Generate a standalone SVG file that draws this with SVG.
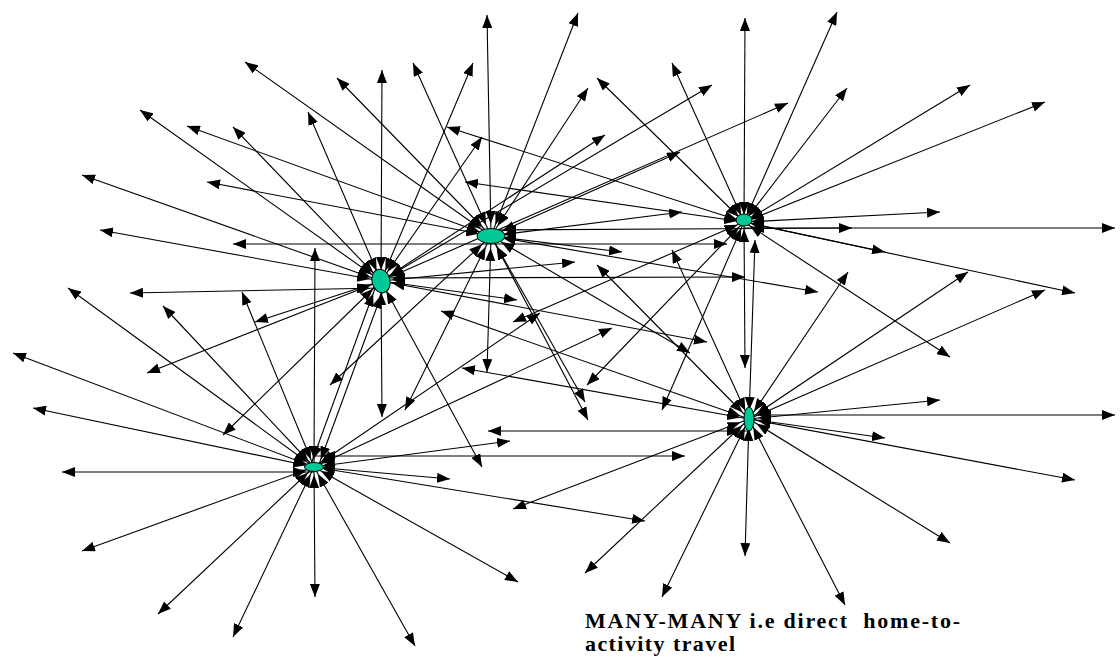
<svg xmlns="http://www.w3.org/2000/svg" width="1120" height="659" viewBox="0 0 1120 659">
<style>
line{stroke:#000;stroke-width:1.1;marker-end:url(#h)}
.a{marker-start:url(#sA)}
.b{marker-start:url(#sB)}
.c{marker-start:url(#sC)}
.d{marker-start:url(#sD)}
.e{marker-start:url(#sE)}
.hub{fill:#00c896;stroke:#000;stroke-width:1}
.lbl{font-family:"Liberation Serif","Times New Roman",serif;font-weight:bold;font-size:22px;fill:#000}
</style>
<defs>
<marker id="h" viewBox="0 0 13 10" refX="13" refY="5" markerWidth="13" markerHeight="10" markerUnits="userSpaceOnUse" orient="auto-start-reverse"><path d="M0,0L13,5L0,10z"/></marker>
<marker id="sA" viewBox="0 0 13 10" refX="24" refY="5" markerWidth="13" markerHeight="10" markerUnits="userSpaceOnUse" orient="auto-start-reverse"><path d="M0,0L13,5L0,10z"/></marker>
<marker id="sB" viewBox="0 0 13 10" refX="25" refY="5" markerWidth="13" markerHeight="10" markerUnits="userSpaceOnUse" orient="auto-start-reverse"><path d="M0,0L13,5L0,10z"/></marker>
<marker id="sC" viewBox="0 0 13 10" refX="20" refY="5" markerWidth="13" markerHeight="10" markerUnits="userSpaceOnUse" orient="auto-start-reverse"><path d="M0,0L13,5L0,10z"/></marker>
<marker id="sD" viewBox="0 0 13 10" refX="22" refY="5" markerWidth="13" markerHeight="10" markerUnits="userSpaceOnUse" orient="auto-start-reverse"><path d="M0,0L13,5L0,10z"/></marker>
<marker id="sE" viewBox="0 0 13 10" refX="21" refY="5" markerWidth="13" markerHeight="10" markerUnits="userSpaceOnUse" orient="auto-start-reverse"><path d="M0,0L13,5L0,10z"/></marker>
</defs>
<g id="connectors">
<!-- hub A -->
<line class="a" x1="381" y1="281" x2="473" y2="63"/>
<line class="a" x1="381" y1="281" x2="382" y2="70"/>
<line class="a" x1="381" y1="281" x2="308" y2="112"/>
<line class="a" x1="381" y1="281" x2="140" y2="110"/>
<line class="a" x1="381" y1="281" x2="233" y2="127"/>
<line class="a" x1="381" y1="281" x2="82" y2="175"/>
<line class="a" x1="381" y1="281" x2="100" y2="230"/>
<line class="a" x1="381" y1="288" x2="130" y2="293"/>
<line class="a" x1="381" y1="281" x2="255" y2="322"/>
<line class="a" x1="381" y1="281" x2="147" y2="373"/>
<line class="a" x1="381" y1="281" x2="223" y2="435"/>
<line class="a" x1="381" y1="281" x2="382" y2="417"/>
<line class="a" x1="381" y1="281" x2="482" y2="467"/>
<line class="a" x1="381" y1="281" x2="517" y2="300"/>
<line class="a" x1="381" y1="281" x2="575" y2="262"/>
<line class="a" x1="381" y1="281" x2="707" y2="342"/>
<line class="a" x1="381" y1="278" x2="745" y2="277"/>
<line class="a" x1="381" y1="281" x2="712" y2="85"/>
<line class="a" x1="381" y1="281" x2="788" y2="103"/>
<line class="a" x1="381" y1="281" x2="605" y2="135"/>
<line class="a" x1="381" y1="281" x2="482" y2="137"/>
<!-- hub B -->
<line class="b" x1="491" y1="236" x2="487" y2="15"/>
<line class="b" x1="491" y1="236" x2="578" y2="13"/>
<line class="b" x1="491" y1="236" x2="413" y2="63"/>
<line class="b" x1="491" y1="236" x2="337" y2="78"/>
<line class="b" x1="491" y1="236" x2="245" y2="62"/>
<line class="b" x1="491" y1="236" x2="187" y2="126"/>
<line class="b" x1="491" y1="236" x2="207" y2="182"/>
<line class="b" x1="491" y1="236" x2="622" y2="252"/>
<line class="b" x1="491" y1="236" x2="818" y2="292"/>
<line class="b" x1="491" y1="236" x2="690" y2="353"/>
<line class="b" x1="491" y1="236" x2="585" y2="402"/>
<line class="b" x1="491" y1="236" x2="588" y2="420"/>
<line class="b" x1="491" y1="236" x2="682" y2="212"/>
<line class="b" x1="491" y1="236" x2="680" y2="152"/>
<line class="b" x1="491" y1="236" x2="588" y2="88"/>
<line class="b" x1="491" y1="230" x2="852" y2="228"/>
<line class="b" x1="491" y1="236" x2="487" y2="372"/>
<line class="b" x1="491" y1="236" x2="405" y2="410"/>
<line class="b" x1="491" y1="236" x2="330" y2="385"/>
<line x1="727" y1="244" x2="233" y2="244" style="marker-start:url(#h)"/>
<!-- hub C -->
<line class="c" x1="744" y1="222" x2="745" y2="18"/>
<line class="c" x1="744" y1="222" x2="837" y2="12"/>
<line class="c" x1="744" y1="222" x2="847" y2="88"/>
<line class="c" x1="744" y1="222" x2="970" y2="85"/>
<line class="c" x1="744" y1="222" x2="1045" y2="102"/>
<line class="c" x1="744" y1="222" x2="940" y2="212"/>
<line class="c" x1="744" y1="228" x2="1115" y2="228"/>
<line class="c" x1="744" y1="222" x2="885" y2="252"/>
<line class="c" x1="744" y1="222" x2="1075" y2="293"/>
<line class="c" x1="744" y1="222" x2="950" y2="357"/>
<line class="c" x1="744" y1="222" x2="745" y2="368"/>
<line class="c" x1="744" y1="222" x2="662" y2="410"/>
<line class="c" x1="744" y1="222" x2="587" y2="385"/>
<line class="c" x1="744" y1="222" x2="513" y2="322"/>
<line class="c" x1="744" y1="222" x2="465" y2="182"/>
<line class="c" x1="744" y1="222" x2="447" y2="127"/>
<line class="c" x1="744" y1="222" x2="597" y2="78"/>
<line class="c" x1="744" y1="222" x2="672" y2="63"/>
<!-- hub D -->
<line class="d" x1="749" y1="415" x2="1115" y2="415"/>
<line class="d" x1="749" y1="419" x2="940" y2="400"/>
<line class="d" x1="749" y1="419" x2="885" y2="438"/>
<line class="d" x1="749" y1="419" x2="1075" y2="480"/>
<line class="d" x1="749" y1="419" x2="950" y2="543"/>
<line class="d" x1="749" y1="419" x2="845" y2="605"/>
<line class="d" x1="749" y1="419" x2="745" y2="556"/>
<line class="d" x1="749" y1="419" x2="662" y2="597"/>
<line class="d" x1="749" y1="419" x2="585" y2="573"/>
<line class="d" x1="749" y1="419" x2="513" y2="509"/>
<line class="d" x1="749" y1="431" x2="488" y2="431"/>
<line class="d" x1="749" y1="419" x2="462" y2="368"/>
<line class="d" x1="749" y1="419" x2="441" y2="311"/>
<line class="d" x1="749" y1="419" x2="597" y2="265"/>
<line class="d" x1="749" y1="419" x2="672" y2="250"/>
<line class="d" x1="749" y1="419" x2="968" y2="272"/>
<line class="d" x1="749" y1="419" x2="1045" y2="290"/>
<line class="d" x1="749" y1="419" x2="848" y2="272"/>
<line class="d" x1="749" y1="419" x2="755" y2="240"/>
<!-- hub E -->
<line class="e" x1="314" y1="467" x2="315" y2="248"/>
<line class="e" x1="314" y1="467" x2="242" y2="292"/>
<line class="e" x1="314" y1="467" x2="163" y2="306"/>
<line class="e" x1="314" y1="467" x2="68" y2="288"/>
<line class="e" x1="314" y1="467" x2="13" y2="353"/>
<line class="e" x1="314" y1="467" x2="33" y2="408"/>
<line class="e" x1="314" y1="472" x2="62" y2="472"/>
<line class="e" x1="314" y1="467" x2="82" y2="551"/>
<line class="e" x1="314" y1="467" x2="158" y2="614"/>
<line class="e" x1="314" y1="467" x2="233" y2="637"/>
<line class="e" x1="314" y1="467" x2="315" y2="597"/>
<line class="e" x1="314" y1="467" x2="415" y2="646"/>
<line class="e" x1="314" y1="467" x2="518" y2="582"/>
<line class="e" x1="314" y1="467" x2="450" y2="479"/>
<line class="e" x1="314" y1="467" x2="510" y2="441"/>
<line class="e" x1="314" y1="456" x2="685" y2="456"/>
<line class="e" x1="314" y1="467" x2="645" y2="521"/>
<line class="e" x1="314" y1="467" x2="612" y2="328"/>
<line class="e" x1="314" y1="467" x2="540" y2="313"/>
<line class="e" x1="310" y1="467" x2="377" y2="283" style="marker-end:url(#sA)"/>
<line class="e" x1="318" y1="467" x2="385" y2="285" style="marker-end:url(#sA)"/>
</g>
<g id="node-a"><ellipse class="hub" cx="381" cy="281" rx="9" ry="12" transform="rotate(-15 381 281)"/></g>
<g id="node-b"><ellipse class="hub" cx="491" cy="236" rx="14" ry="7.5"/></g>
<g id="node-c"><ellipse class="hub" cx="744" cy="220" rx="8" ry="6"/></g>
<g id="node-d"><ellipse class="hub" cx="749" cy="419" rx="5" ry="12"/></g>
<g id="node-e"><ellipse class="hub" cx="314" cy="467" rx="9.5" ry="4.5"/></g>
<g id="label">
<text class="lbl" x="585" y="628" textLength="375" lengthAdjust="spacing" xml:space="preserve">MANY-MANY i.e direct  home-to-</text>
<text class="lbl" x="585" y="651" textLength="150" lengthAdjust="spacing">activity travel</text>
</g>
</svg>
